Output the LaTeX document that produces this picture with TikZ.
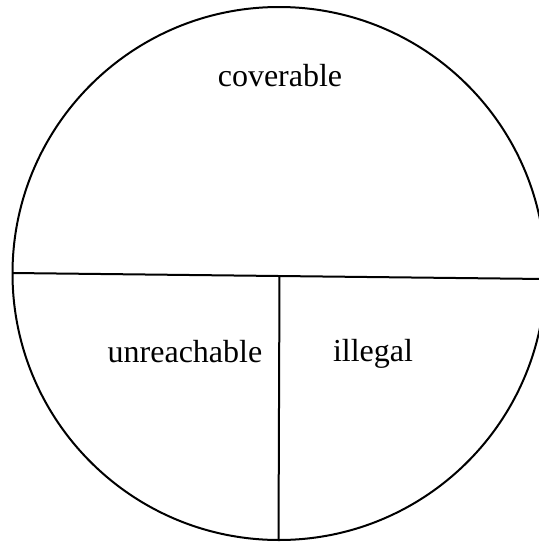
\documentclass[tikz,border=0pt]{standalone}
\usepackage{fontspec}
\setmainfont{Liberation Serif}
\begin{document}
\begin{tikzpicture}[x=1pt,y=1pt,
  edge/.style={line width=2pt},
  lab/.style={font=\fontsize{32}{38}\selectfont, inner sep=0pt}]
\useasboundingbox (0,0) rectangle (539,-542);
\clip (0,0) rectangle (539,-542);
\node[draw, circle, line width=2pt, minimum size=533pt, inner sep=0pt] (c) at (279,-273.5) {};
\coordinate (hl) at (12.5,-273);
\coordinate (hr) at (545,-279);
\coordinate (vt) at (279.5,-276);
\coordinate (vb) at (278.5,-540);
\draw[edge] (hl) -- (hr);
\draw[edge] (vt) -- (vb);
\node[lab] (cov) at (280,-76) {coverable};
\node[lab] (unr) at (185,-352) {unreachable};
\node[lab] (ill) at (373,-354) {illegal};
\end{tikzpicture}
\end{document}
